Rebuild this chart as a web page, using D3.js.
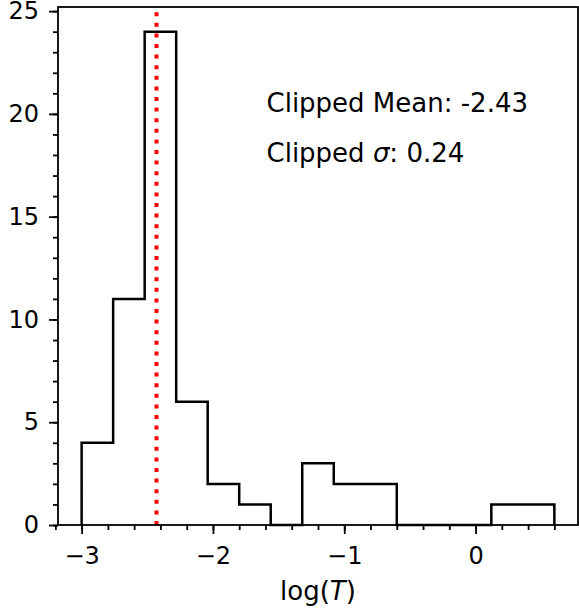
<!DOCTYPE html>
<html>
<head>
<meta charset="utf-8">
<script src="https://cdn.jsdelivr.net/npm/d3@7"></script>
<style>
  body { margin: 0; background: #fff; }
  svg text { font-family: "DejaVu Sans", sans-serif; }
</style>
</head>
<body>
<div id="chart"></div>
<script>
// Histogram data (15 bins from -3.0 to 0.60)
var binEdges = [-3.0, -2.76, -2.52, -2.28, -2.04, -1.80, -1.56, -1.32, -1.08, -0.84, -0.60, -0.36, -0.12, 0.12, 0.36, 0.60];
var counts = [4, 11, 24, 6, 2, 1, 0, 3, 2, 2, 0, 0, 0, 1, 1];
var clippedMean = -2.43;
var clippedSigma = 0.24;
var xTicks = [-3, -2, -1, 0];
var yTicks = [0, 5, 10, 15, 20, 25];

var W = 579, H = 613;
var margin = {top: 7, right: 1, bottom: 88, left: 58},
    width = W - margin.left - margin.right,
    height = H - margin.top - margin.bottom;

var x = d3.scaleLinear().domain([-3.18, 0.78]).range([0, width]);
var y = d3.scaleLinear().domain([0, 25.2]).range([height, 0]);

var svg = d3.select("#chart")
  .append("svg")
  .attr("width", W)
  .attr("height", H)
  .append("g")
  .attr("transform", "translate(" + margin.left + "," + margin.top + ")");

// step outline
var pts = [[binEdges[0], 0]];
counts.forEach(function(c, i) {
  pts.push([binEdges[i], c]);
  pts.push([binEdges[i + 1], c]);
});
pts.push([binEdges[binEdges.length - 1], 0]);

svg.append("path")
  .datum(pts)
  .attr("fill", "none")
  .attr("stroke", "#000")
  .attr("stroke-width", 2.5)
  .attr("stroke-linejoin", "miter")
  .attr("d", d3.line().x(function(d) { return x(d[0]); }).y(function(d) { return y(d[1]); }));

// mean line
svg.append("line")
  .attr("x1", x(clippedMean)).attr("x2", x(clippedMean))
  .attr("y1", y(0)).attr("y2", y(25))
  .attr("stroke", "#ff0000")
  .attr("stroke-width", 4)
  .attr("stroke-dasharray", "4,6.6");

// axes
var fmt = function(d) { return d < 0 ? "\u2212" + Math.abs(d) : String(d); };

svg.append("g")
  .attr("transform", "translate(0," + height + ")")
  .call(d3.axisBottom(x).tickValues(xTicks).tickFormat(fmt).tickSize(9).tickPadding(13));
svg.append("g")
  .attr("transform", "translate(0," + height + ")")
  .call(d3.axisBottom(x).tickValues(d3.range(-3.2, 0.8, 0.2)).tickFormat("").tickSize(5));

svg.append("g")
  .call(d3.axisLeft(y).tickValues(yTicks).tickFormat(fmt).tickSize(9).tickPadding(10));
svg.append("g")
  .call(d3.axisLeft(y).tickValues(d3.range(0, 26, 1)).tickFormat("").tickSize(5));

svg.selectAll(".tick line").attr("stroke-width", 1.8);
svg.selectAll(".domain").remove();
svg.selectAll(".tick text").attr("font-size", 24).attr("font-family", "DejaVu Sans").attr("fill", "#000");

// frame
svg.append("rect")
  .attr("x", 0).attr("y", 0)
  .attr("width", width).attr("height", height)
  .attr("fill", "none")
  .attr("stroke", "#000")
  .attr("stroke-width", 1.8);

// labels
var xl = svg.append("text")
  .attr("x", 318 - margin.left)
  .attr("y", 600 - margin.top)
  .attr("text-anchor", "middle")
  .attr("font-size", 26);
xl.append("tspan").text("log(");
xl.append("tspan").attr("font-style", "italic").text("T");
xl.append("tspan").text(")");

svg.append("text")
  .attr("x", 208.5).attr("y", 112 - margin.top)
  .attr("font-size", 26)
  .text("Clipped Mean: " + clippedMean.toFixed(2));

var t2 = svg.append("text")
  .attr("x", 208.5).attr("y", 162 - margin.top)
  .attr("font-size", 26);
t2.append("tspan").text("Clipped ");
t2.append("tspan").attr("font-style", "italic").text("\u03c3");
t2.append("tspan").text(": " + clippedSigma.toFixed(2));
</script>
</body>
</html>
